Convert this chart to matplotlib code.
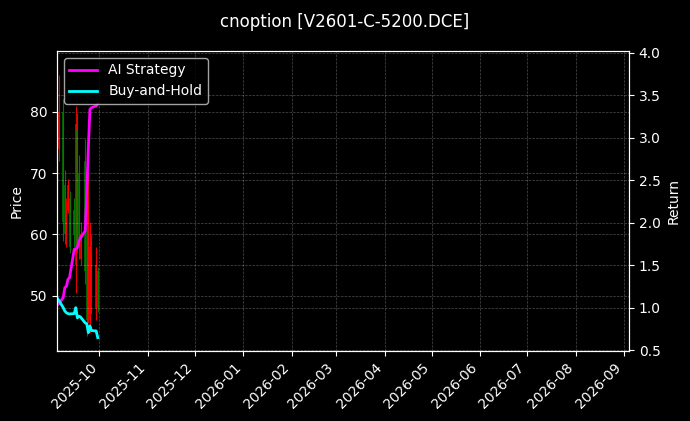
import numpy as np
import pandas as pd
import matplotlib
matplotlib.use("Agg")
import matplotlib.pyplot as plt
import matplotlib.dates as mdates

# trading days of the option (Sept 2025)
dates = pd.to_datetime([
    "2025-09-04", "2025-09-05", "2025-09-08", "2025-09-09", "2025-09-10",
    "2025-09-11", "2025-09-12", "2025-09-15", "2025-09-16", "2025-09-17",
    "2025-09-18", "2025-09-19", "2025-09-22", "2025-09-23", "2025-09-24",
    "2025-09-25", "2025-09-26", "2025-09-29", "2025-09-30",
])

# OHLC
open_ = [72, 74, 80, 68, 60, 64, 66, 64, 55, 77, 70, 56, 72, 62, 47, 46, 50, 48, 54]
high = [88, 86, 82, 70.5, 66, 69, 67, 66, 81, 79.8, 73, 62, 75.5, 66, 70, 62, 60, 58, 54.7]
low = [69.5, 72, 59, 58.5, 58, 63.5, 57, 58, 50.5, 57, 56, 55, 52, 43.5, 45.5, 44, 47, 46, 47.4]
close = [86, 80, 62, 60, 64, 68, 58, 60, 78, 58, 58, 60, 54, 46, 66, 58, 57, 55, 48]

# cumulative returns
ai_strategy = [1.04, 1.04, 1.12, 1.235, 1.25, 1.334, 1.353, 1.687, 1.69, 1.706,
               1.785, 1.824, 1.90, 2.373, 2.88, 3.334, 3.353, 3.373, 3.40]
buy_hold = [1.118, 1.09, 1.0, 0.96, 0.94, 0.93, 0.926, 0.93, 1.0, 0.88,
            0.90, 0.89, 0.82, 0.81, 0.706, 0.785, 0.73, 0.726, 0.647]

plt.style.use("dark_background")
fig = plt.figure(figsize=(6.9, 4.21), dpi=100)
ax = fig.add_axes([0.0826, 0.1663, 0.829, 0.7126])

x = mdates.date2num(dates)
for xi, o, h, l, c in zip(x, open_, high, low, close):
    col = "red" if c >= o else "green"
    ax.vlines(xi, l, h, color=col, linewidth=0.8, alpha=0.9)
    ax.vlines(xi, min(o, c), max(o, c), color=col, linewidth=1.2, alpha=0.9)

ax.set_ylabel("Price")
ax.set_ylim(41, 89.9)
ax.set_xlim(mdates.date2num(pd.Timestamp("2025-09-04")),
            mdates.date2num(pd.Timestamp("2026-09-04")))
ax.grid(True, linestyle="--", linewidth=0.5, alpha=0.3)

ax2 = ax.twinx()
ax2.plot(dates, ai_strategy, color="magenta", linewidth=2, label="AI Strategy")
ax2.plot(dates, buy_hold, color="cyan", linewidth=2, label="Buy-and-Hold")
ax2.set_ylabel("Return")
ax2.set_ylim(0.49, 4.02)
ax2.grid(True, linestyle="--", linewidth=0.5, alpha=0.3)
ax2.legend(loc="upper left")

ax.xaxis.set_major_locator(mdates.MonthLocator())
ax.xaxis.set_major_formatter(mdates.DateFormatter("%Y-%m"))
plt.setp(ax.get_xticklabels(), rotation=45, ha="right")

fig.suptitle("cnoption [V2601-C-5200.DCE]", y=0.97)
fig.savefig("out.png", dpi=100)
